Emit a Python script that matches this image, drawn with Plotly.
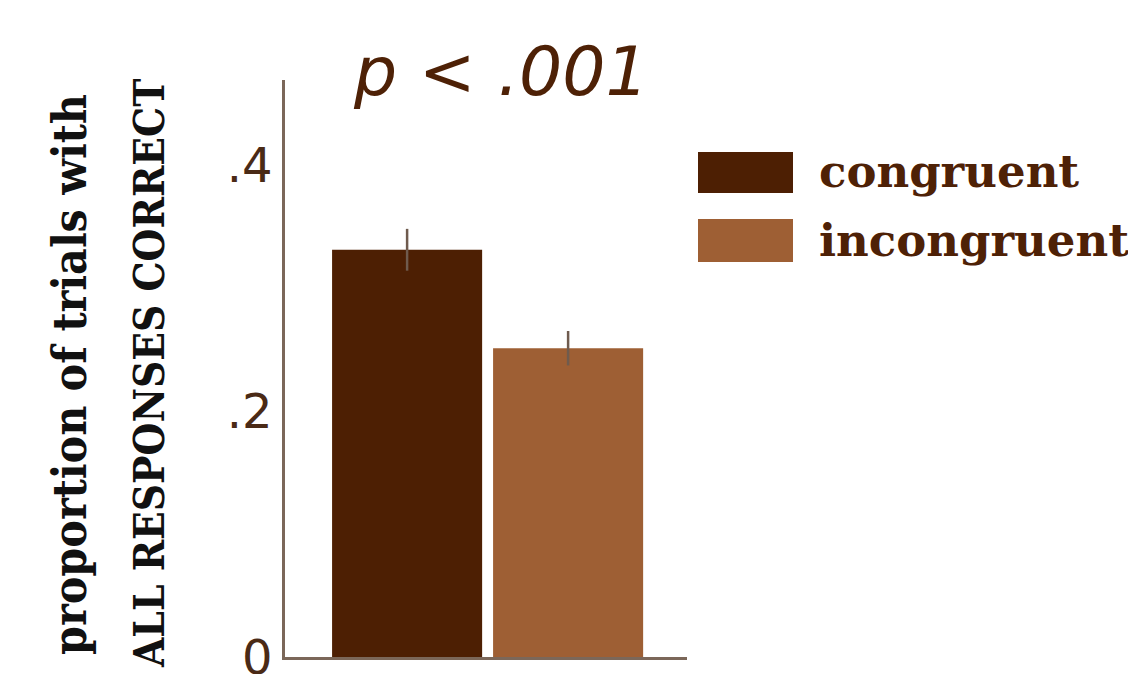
import plotly.graph_objects as go

# ---- data ----
conditions = ["congruent", "incongruent"]
proportions = [0.331, 0.251]
sem = [0.017, 0.014]
bar_colors = ["#4d1f03", "#9e5f34"]
y_tick_vals = [0, 0.2, 0.4]
y_tick_text = ["0", ".2", ".4"]
title_text = "<i>p</i> < .001"
y_title_lines = ["proportion of trials with", "ALL RESPONSES CORRECT"]

TEXT = "#4e2106"
TICK = "#4a2a16"
AXIS = "#7b6759"
ERR = "#6f5b4e"

W, H = 1128, 674
L, R, T, B = 285, 441, 80, 17
pw, ph = W - L - R, H - T - B

def px(x):
    return (x - L) / pw

def py(y):
    return (H - B - y) / ph

fig = go.Figure()
for name, val, err, col in zip(conditions, proportions, sem, bar_colors):
    fig.add_trace(go.Bar(
        x=["all"], y=[val], name=name,
        marker=dict(color=col, line=dict(width=0)),
        error_y=dict(type="data", array=[err], color=ERR, thickness=2.5, width=0),
        showlegend=False,
    ))

fig.update_layout(
    template="none",
    width=W, height=H,
    margin=dict(l=L, r=R, t=T, b=B, pad=0, autoexpand=False),
    paper_bgcolor="white", plot_bgcolor="white",
    barmode="group", bargap=0.199, bargroupgap=0.068,
    xaxis=dict(range=[-0.504, 0.496], showticklabels=False, ticks="", showgrid=False,
               zeroline=False, showline=True, linecolor=AXIS, linewidth=2.5,
               automargin=False),
    yaxis=dict(range=[0, 0.469], tickvals=y_tick_vals, ticktext=y_tick_text,
               ticks="", showgrid=False, zeroline=False,
               showline=True, linecolor=AXIS, linewidth=2.5,
               tickfont=dict(family="DejaVu Sans", size=48, color=TICK),
               ticklabelstandoff=0, ticklabeloverflow="allow", automargin=False),
    showlegend=False,
)

anns = []
# title
anns.append(dict(text=title_text, x=px(501), y=py(72), xref="paper", yref="paper",
                 xanchor="center", yanchor="middle", showarrow=False,
                 font=dict(family="DejaVu Sans", size=68, color=TEXT, style="italic")))
# y-axis title lines
for line, cx, cy, sz in zip(y_title_lines, [70, 150], [375, 374], [46, 42]):
    anns.append(dict(text=line, x=px(cx), y=py(cy), xref="paper", yref="paper",
                     xanchor="center", yanchor="middle", textangle=-90, showarrow=False,
                     font=dict(family="DejaVu Serif Condensed", size=sz, color="#111111",
                               weight="bold")))
# legend
leg_rows = [(152, 193, 171), (219, 262, 240)]
shapes = []
for (name, col), (y0, y1, yc) in zip(zip(conditions, bar_colors), leg_rows):
    shapes.append(dict(type="rect", xref="paper", yref="paper",
                       x0=px(698), x1=px(793), y0=py(y1), y1=py(y0),
                       fillcolor=col, line=dict(width=0)))
    anns.append(dict(text=name, x=px(817), y=py(yc), xref="paper", yref="paper",
                     xanchor="left", yanchor="middle", showarrow=False,
                     font=dict(family="DejaVu Serif", size=45, color=TEXT, weight="bold")))

fig.update_layout(annotations=anns, shapes=shapes)
fig.write_html("out.html")
